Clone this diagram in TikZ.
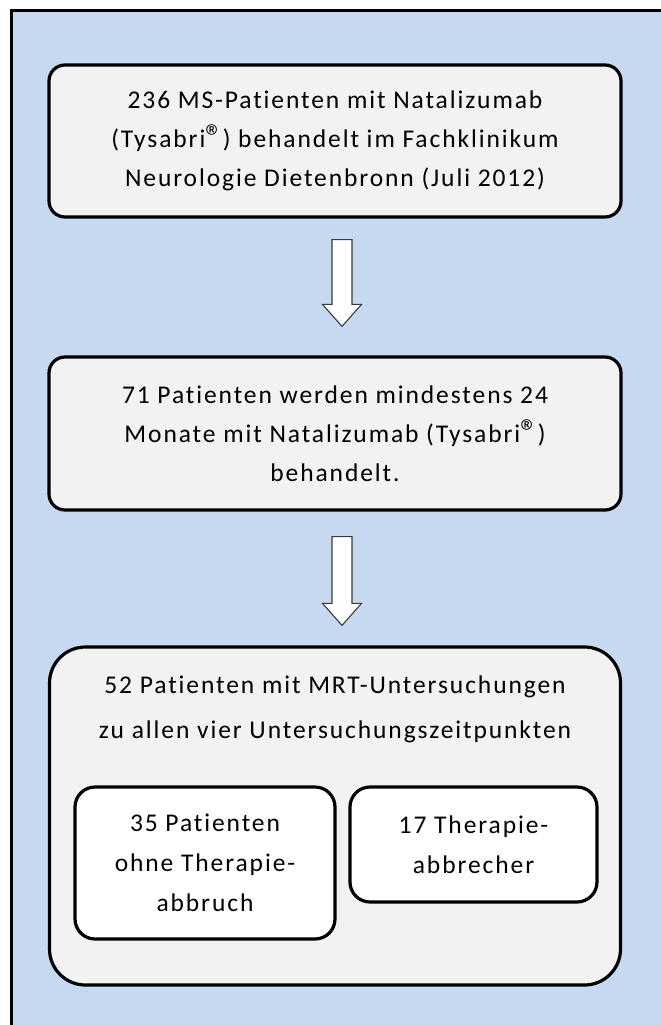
\documentclass[tikz,border=0pt]{standalone}
\usepackage{fontspec}
\setmainfont{Carlito}[Ligatures=NoCommon]
\usetikzlibrary{calc}
\definecolor{framefill}{HTML}{C6D9F1}
\definecolor{boxfill}{HTML}{F2F2F2}
\definecolor{arrowline}{HTML}{3A3A3A}
\newcommand{\regmark}{\raisebox{-1pt}{\scalebox{1.35}{®}}}
\newcommand{\boxfont}{\fontsize{25.5}{39}\selectfont\addfontfeature{LetterSpace=7.5}}
\tikzset{
  flowbox/.style={draw=black, line width=3.2pt, fill=boxfill, rounded corners=16pt,
    align=center, inner sep=0pt, font=\boxfont},
  bigbox/.style={draw=black, line width=3.2pt, fill=boxfill, rounded corners=36pt, inner sep=0pt},
  subbox/.style={draw=black, line width=3.2pt, fill=white, rounded corners=20pt,
    align=center, inner sep=0pt, font=\fontsize{25.5}{40}\selectfont\addfontfeature{LetterSpace=7.5}},
  titletext/.style={align=center, inner sep=0pt, font=\fontsize{25.5}{45}\selectfont\addfontfeature{LetterSpace=7.5}},
  blockarrow/.style={draw=arrowline, line width=1.1pt, fill=white, line join=miter}
}
\begin{document}
\begin{tikzpicture}[x=1pt,y=1pt]
\useasboundingbox (0,0) rectangle (661,-1025);
\clip (0,0) rectangle (661,-1025);
\fill[white] (0,0) rectangle (661,-1025);
\draw[line width=3pt, fill=framefill] (11,-11) rectangle (700,-1060);

\node[flowbox, minimum width=572pt, minimum height=152pt] (b1) at (335,-141)
  {236 MS-Patienten mit Natalizumab\\(Tysabri\regmark) behandelt im Fachklinikum\\Neurologie Dietenbronn (Juli 2012)};
\node[flowbox, minimum width=572pt, minimum height=153pt] (b2) at (335,-433.5)
  {71 Patienten werden mindestens 24\\Monate mit Natalizumab (Tysabri\regmark)\\behandelt.};
\node[bigbox, minimum width=571pt, minimum height=338pt] (b3) at (335,-816) {};
\node[titletext] (b3t) at (335,-709)
  {52 Patienten mit MRT-Untersuchungen\\zu allen vier Untersuchungszeitpunkten};
\node[subbox, minimum width=260pt, minimum height=152pt] (s1) at (205,-863)
  {35 Patienten\\ohne Therapie-\\abbruch};
\node[subbox, minimum width=247pt, minimum height=115pt] (s2) at (473.5,-844.5)
  {17 Therapie-\\abbrecher};

% block arrows between the boxes
\coordinate (a1s) at ($(b1.south)+(7,-21)$);
\coordinate (a1e) at ($(b2.north)+(7,29)$);
\draw[blockarrow] ($(a1s)+(-10,0)$) -- ($(a1s)+(10,0)$) -- ($(a1e)+(10,22)$) -- ($(a1e)+(19.5,22)$)
  -- (a1e) -- ($(a1e)+(-19.5,22)$) -- ($(a1e)+(-10,22)$) -- cycle;
\coordinate (a2s) at ($(b2.south)+(7,-25)$);
\coordinate (a2e) at ($(b3.north)+(7,20)$);
\draw[blockarrow] ($(a2s)+(-10,0)$) -- ($(a2s)+(10,0)$) -- ($(a2e)+(10,22)$) -- ($(a2e)+(19.5,22)$)
  -- (a2e) -- ($(a2e)+(-19.5,22)$) -- ($(a2e)+(-10,22)$) -- cycle;
\end{tikzpicture}
\end{document}
